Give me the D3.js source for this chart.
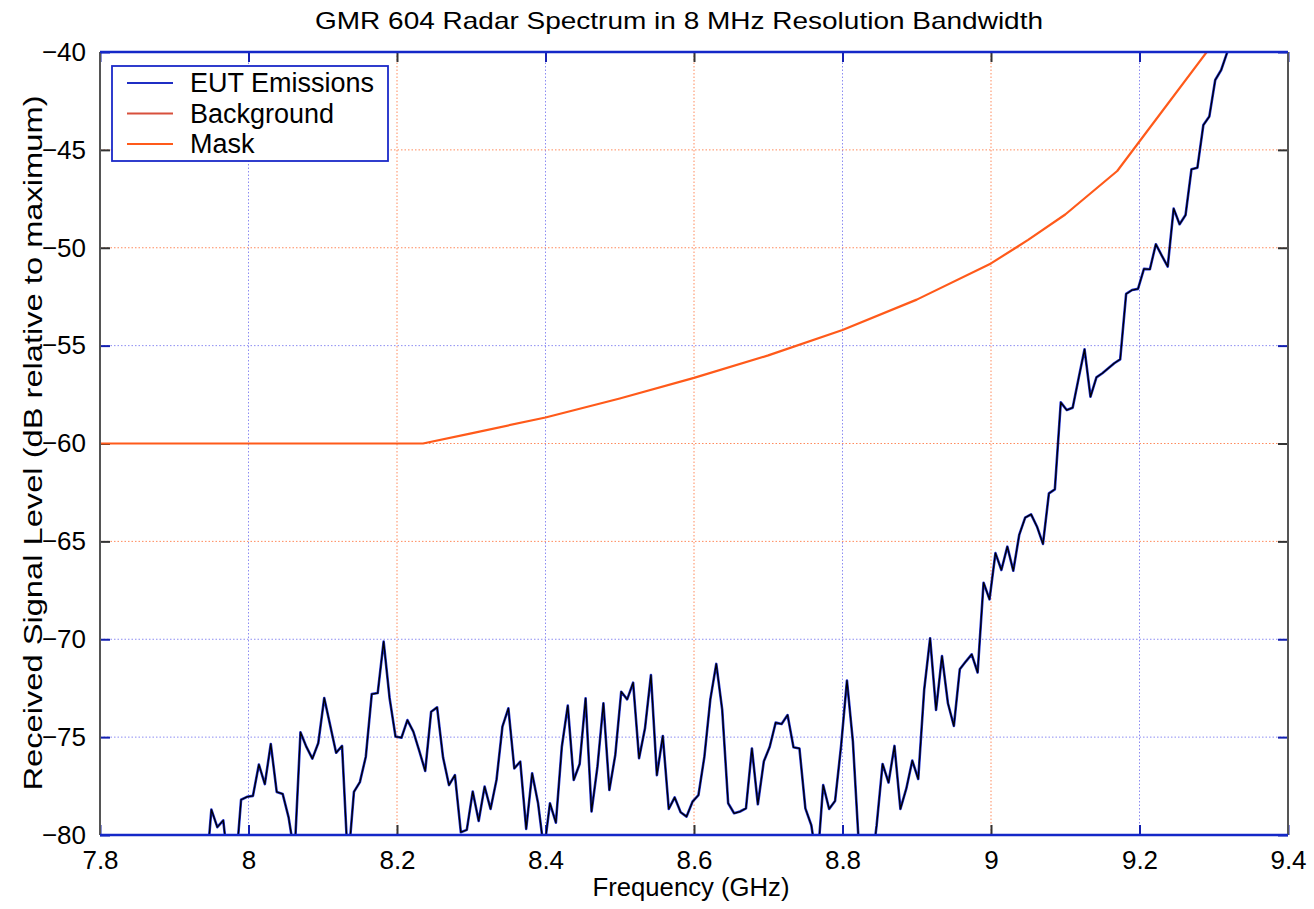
<!DOCTYPE html>
<html>
<head>
<meta charset="utf-8">
<script src="https://cdn.jsdelivr.net/npm/d3@7"></script>
<style>
  body { margin: 0; background: #fff; }
  text { font-family: "Liberation Sans", Arial, sans-serif; fill: #000; }
</style>
</head>
<body>
<svg id="chart" width="1314" height="909"></svg>
<script>
// EUT emissions, 8 MHz steps starting at 7.942 GHz (values below -80 are clipped off)
const eutStart = 7.942;
const eutStep = 0.008;
const eutLevels = [
  -82.4,
  -78.7, -79.6, -79.25, -82, -82, -78.2, -78.05, -78.0, -76.4, -77.4,
  -75.35, -77.8, -77.9, -79.1, -81, -74.75, -75.5, -76.1, -75.3, -73.0,
  -74.4, -75.8, -75.45, -81.5, -77.8, -77.3, -76.0, -72.8, -72.75, -70.12,
  -73.0, -74.97, -75.03, -74.13, -74.72, -75.7, -76.73, -73.7, -73.48, -76.03,
  -77.45, -76.94, -79.86, -79.74, -77.78, -79.28, -77.53, -78.67, -77.19, -74.46,
  -73.53, -76.6, -76.25, -79.69, -76.85, -78.38, -80.8, -78.38, -79.37, -75.49,
  -73.39, -77.19, -76.37, -73.02, -78.8, -76.5, -73.27, -77.7, -75.91, -72.68,
  -73.07, -72.22, -76.08, -74.55, -71.83, -76.94, -74.94, -78.67, -78.08, -78.84,
  -79.06, -78.3, -77.96, -76.0, -73.07, -71.26, -73.61, -78.38, -78.89, -78.8,
  -78.64, -75.58, -78.43, -76.25, -75.49, -74.26, -74.33, -73.87, -75.52, -75.58,
  -78.64, -79.5, -81.5, -77.45, -78.67, -78.26, -75.49, -72.11, -75.23, -80.5,
  -83, -82, -79.5, -76.37, -77.32, -75.45, -78.67, -77.62, -76.2, -77.14,
  -72.59, -69.95, -73.61, -70.86, -73.27, -74.43, -71.53, -71.14, -70.77, -71.7,
  -67.11, -67.96, -65.6, -66.46, -65.27, -66.5, -64.67, -63.79, -63.62, -64.25,
  -65.13, -62.55, -62.34, -57.9, -58.29, -58.17, -56.67, -55.19, -57.61, -56.62,
  -56.41, -56.16, -55.9, -55.7, -52.36, -52.16, -52.1, -51.08, -51.1, -49.82,
  -50.4, -50.96, -48.0, -48.8, -48.33, -45.99, -45.91, -43.73, -43.3, -41.43,
  -40.92, -40.03, -39.0, -38.3
];

// mask curve
const maskFreq = [7.8, 8.235, 8.3, 8.4, 8.5, 8.6, 8.7, 8.8, 8.9, 9.0, 9.05, 9.1, 9.17, 9.29, 9.3];
const maskLevel = [-60, -60, -59.48, -58.67, -57.7, -56.65, -55.5, -54.2, -52.65, -50.8, -49.6, -48.3, -46.08, -40.03, -39.5];

const xTicks = [7.8, 8, 8.2, 8.4, 8.6, 8.8, 9, 9.2, 9.4];
const yTicks = [-40, -45, -50, -55, -60, -65, -70, -75, -80];
// which grid lines come out orange, the rest are blue
const xOrange = [8.2, 8.6, 9];
const yOrange = [-45, -50, -60, -65];

const legendNames = ["EUT Emissions", "Background", "Mask"];
const legendColors = ["#1f2ec4", "#d8503c", "#ff5a1a"];

const margin = { top: 52, right: 26, bottom: 74, left: 100 };
const svg = d3.select("#chart");
const width = +svg.attr("width") - margin.left - margin.right,
    height = +svg.attr("height") - margin.top - margin.bottom;

const x = d3.scaleLinear().domain([7.8, 9.4]).range([0, width]);
const y = d3.scaleLinear().domain([-80, -40]).range([height, 0]);

const g = svg.append("g").attr("transform", "translate(" + margin.left + "," + margin.top + ")");

svg.append("defs").append("clipPath").attr("id", "plotclip")
  .append("rect").attr("width", width).attr("height", height);

// grid
g.selectAll(".vgrid").data(xTicks.slice(1, -1)).enter().append("line")
  .attr("x1", d => x(d)).attr("x2", d => x(d))
  .attr("y1", 0).attr("y2", height)
  .attr("stroke", d => xOrange.includes(d) ? "#ff8a5c" : "#8c8cf2")
  .attr("stroke-width", 1)
  .attr("stroke-dasharray", "1.5,2");

g.selectAll(".hgrid").data(yTicks.slice(1, -1)).enter().append("line")
  .attr("x1", 0).attr("x2", width)
  .attr("y1", d => y(d)).attr("y2", d => y(d))
  .attr("stroke", d => yOrange.includes(d) ? "#ff8a5c" : "#8c8cf2")
  .attr("stroke-width", 1)
  .attr("stroke-dasharray", "1.5,2");

// axes via d3, ticks pointing inward
const tickColor = (isOrange) => isOrange ? "#333" : "#1420b0";

const xAxisB = g.append("g").attr("transform", "translate(0," + height + ")")
  .call(d3.axisBottom(x).tickValues(xTicks).tickSize(-10).tickPadding(16).tickFormat(d3.format("")));
const xAxisT = g.append("g")
  .call(d3.axisTop(x).tickValues(xTicks).tickSize(-10).tickFormat(""));
const yAxisL = g.append("g")
  .call(d3.axisLeft(y).tickValues(yTicks).tickSize(-10).tickPadding(14).tickFormat(d3.format("")));
const yAxisR = g.append("g").attr("transform", "translate(" + width + ",0)")
  .call(d3.axisRight(y).tickValues(yTicks).tickSize(-10).tickFormat(""));

[xAxisB, xAxisT].forEach(a => {
  a.select(".domain").remove();
  a.selectAll(".tick line").attr("stroke-width", 2).attr("stroke", d => tickColor(xOrange.includes(d)));
});
[yAxisL, yAxisR].forEach(a => {
  a.select(".domain").remove();
  a.selectAll(".tick line").attr("stroke-width", 2).attr("stroke", d => tickColor(yOrange.includes(d)));
});
g.selectAll(".tick text").style("font-size", "26px").style("font-family", "Liberation Sans, Arial, sans-serif").attr("fill", "#000");
xAxisB.selectAll(".tick text").attr("dy", "0.71em");

// data lines
const eut = eutLevels.map((v, i) => ({ f: eutStart + i * eutStep, v: v }));
const mask = maskFreq.map((f, i) => ({ f: f, v: maskLevel[i] }));

const line = d3.line()
  .x(d => x(d.f))
  .y(d => y(d.v));

const plot = g.append("g").attr("clip-path", "url(#plotclip)");

plot.append("path").datum(mask)
  .attr("fill", "none").attr("stroke", "#ff5a1a").attr("stroke-width", 2.2)
  .attr("stroke-linejoin", "round").attr("d", line);

plot.append("path").datum(eut)
  .attr("fill", "none").attr("stroke", "#2030d0").attr("stroke-width", 2.6)
  .attr("stroke-linejoin", "round").attr("d", line);
plot.append("path").datum(eut)
  .attr("fill", "none").attr("stroke", "#000").attr("stroke-width", 1.3)
  .attr("stroke-linejoin", "round").attr("d", line);

// plot frame: left/right gray, top/bottom blue
g.append("line").attr("x1", 0).attr("x2", 0).attr("y1", 0).attr("y2", height).attr("stroke", "#555").attr("stroke-width", 2);
g.append("line").attr("x1", width).attr("x2", width).attr("y1", 0).attr("y2", height).attr("stroke", "#555").attr("stroke-width", 2);
g.append("line").attr("x1", 0).attr("x2", width).attr("y1", 0).attr("y2", 0).attr("stroke", "#1428c8").attr("stroke-width", 2.5);
g.append("line").attr("x1", 0).attr("x2", width).attr("y1", height).attr("y2", height).attr("stroke", "#1428c8").attr("stroke-width", 2.5);

// legend
const legend = svg.append("g").attr("transform", "translate(112,66)");
legend.append("rect").attr("width", 276).attr("height", 95)
  .attr("fill", "#fff").attr("stroke", "#1a28c8").attr("stroke-width", 1.8);
legendNames.forEach((name, i) => {
  const ly = 17 + i * 30.5;
  legend.append("line").attr("x1", 15).attr("x2", 61).attr("y1", ly).attr("y2", ly)
    .attr("stroke", legendColors[i]).attr("stroke-width", 2);
  legend.append("text").attr("x", 78).attr("y", ly + 9).style("font-size", "27px").text(name);
});

// titles
svg.append("text").attr("x", 679).attr("y", 29).attr("text-anchor", "middle")
  .style("font-size", "24px").attr("textLength", 728).attr("lengthAdjust", "spacingAndGlyphs")
  .text("GMR 604 Radar Spectrum in 8 MHz Resolution Bandwidth");
svg.append("text").attr("x", 691).attr("y", 896).attr("text-anchor", "middle")
  .style("font-size", "25px").attr("textLength", 197).attr("lengthAdjust", "spacingAndGlyphs")
  .text("Frequency (GHz)");
svg.append("text").attr("transform", "translate(42,443) rotate(-90)").attr("text-anchor", "middle")
  .style("font-size", "26px").attr("textLength", 695).attr("lengthAdjust", "spacingAndGlyphs")
  .text("Received Signal Level (dB relative to maximum)");
</script>
</body>
</html>
